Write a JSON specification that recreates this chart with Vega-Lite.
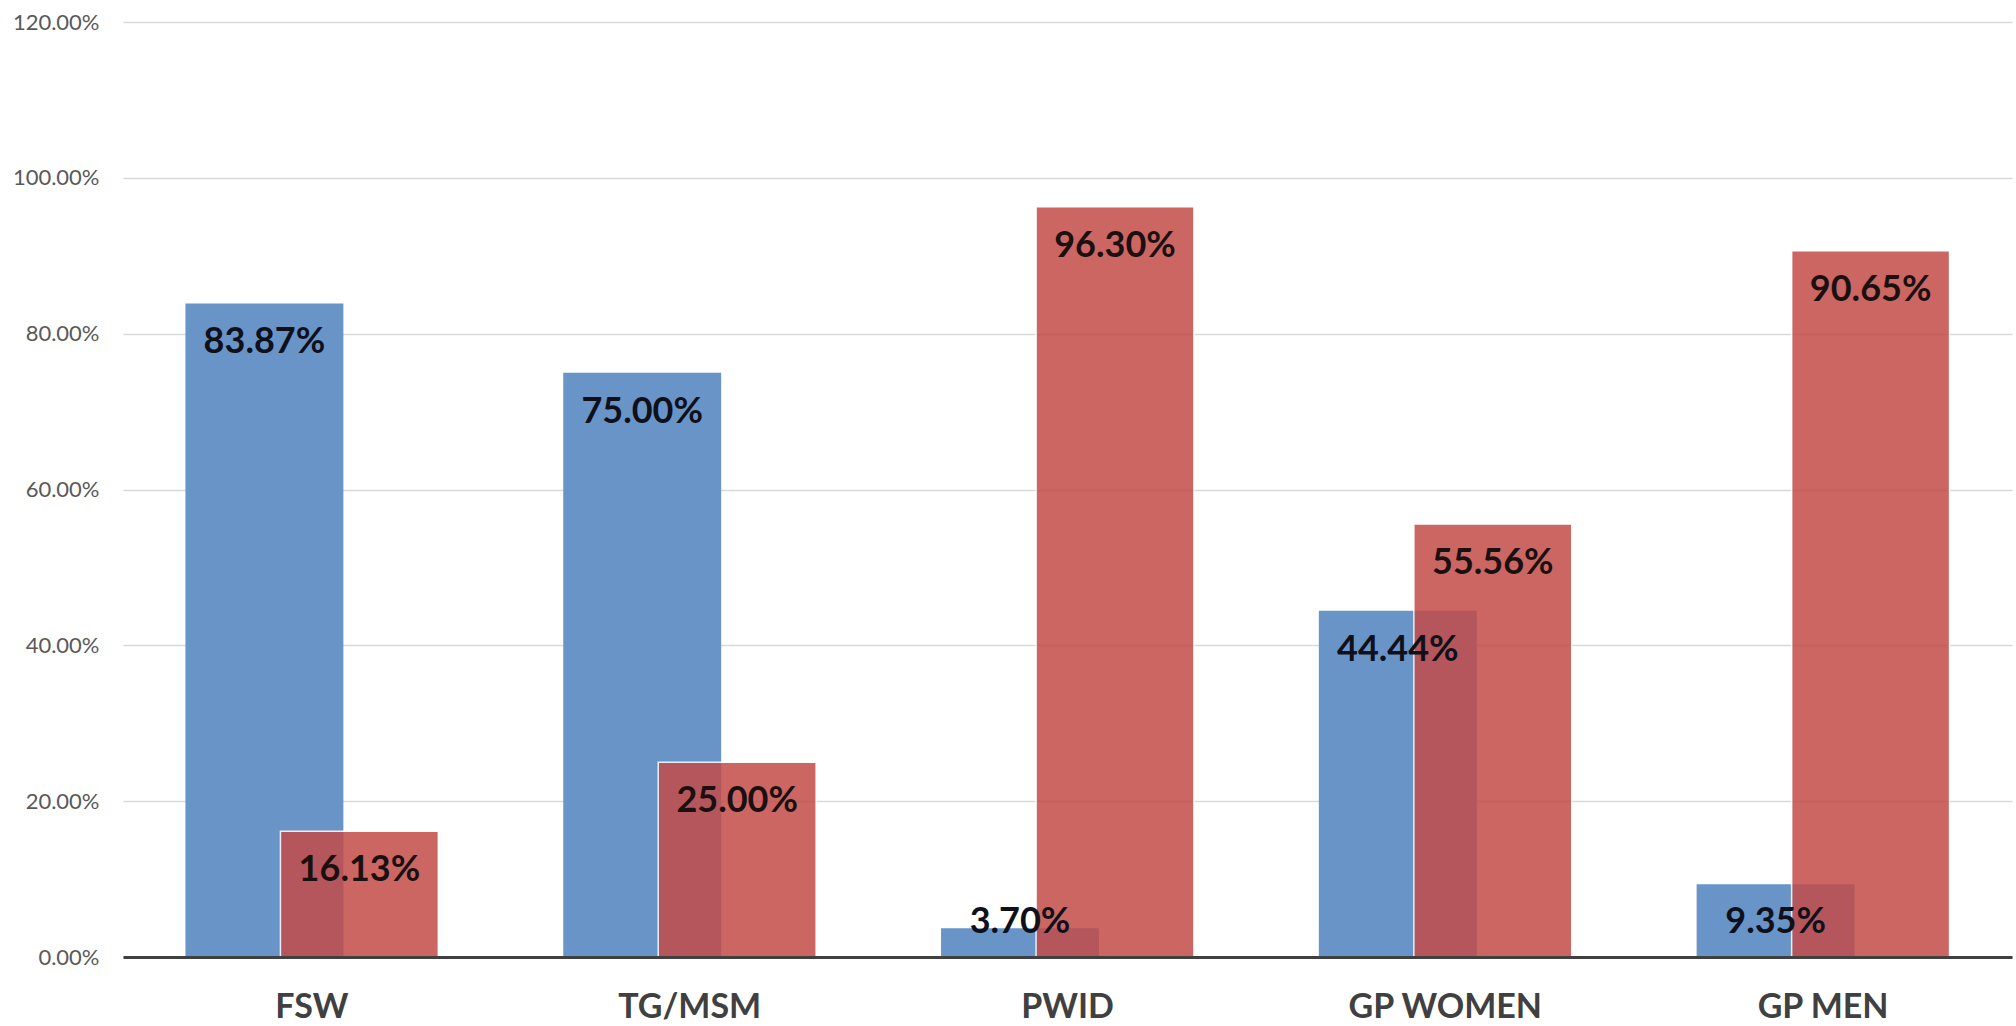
{
  "$schema": "https://vega.github.io/schema/vega-lite/v6.json",
  "autosize": {"type": "none"},
  "padding": {"left": 123, "top": 22, "right": 4, "bottom": 69},
  "width": 1889,
  "height": 935,
  "background": "white",
  "data": {
    "values": [
      {"group": "FSW", "series": "Series1", "value": 0.8387},
      {"group": "FSW", "series": "Series2", "value": 0.1613},
      {"group": "TG/MSM", "series": "Series1", "value": 0.75},
      {"group": "TG/MSM", "series": "Series2", "value": 0.25},
      {"group": "PWID", "series": "Series1", "value": 0.037},
      {"group": "PWID", "series": "Series2", "value": 0.963},
      {"group": "GP WOMEN", "series": "Series1", "value": 0.4444},
      {"group": "GP WOMEN", "series": "Series2", "value": 0.5556},
      {"group": "GP MEN", "series": "Series1", "value": 0.0935},
      {"group": "GP MEN", "series": "Series2", "value": 0.9065}
    ]
  },
  "transform": [
    {"calculate": "max(datum.value - 0.05, 0.045)", "as": "labelY"}
  ],
  "encoding": {
    "x": {
      "field": "group",
      "type": "nominal",
      "sort": null,
      "scale": {"paddingInner": 0, "paddingOuter": 0},
      "axis": {
        "title": null,
        "labelAngle": 0,
        "labelFont": "Lato",
        "labelFontWeight": "bold",
        "labelFontSize": 34,
        "labelLimit": 400,
        "labelColor": "#404040",
        "labelPadding": 33,
        "ticks": false,
        "domainColor": "#404040",
        "domainWidth": 3,
        "zindex": 1
      }
    }
  },
  "layer": [
    {
      "transform": [{"filter": "datum.series === 'Series1'"}],
      "mark": {"type": "bar", "width": {"band": 0.418}, "xOffset": -47.5, "color": "#6894C8"},
      "encoding": {
        "y": {
          "field": "value",
          "type": "quantitative",
          "scale": {"domain": [0, 1.2], "nice": false},
          "axis": {
            "title": null,
            "values": [0, 0.2, 0.4, 0.6, 0.8, 1.0, 1.2],
            "format": ".2%",
            "labelFont": "Lato",
            "labelFontSize": 22,
            "labelColor": "#595959",
            "labelPadding": 24,
            "ticks": false,
            "domain": false,
            "gridColor": "#D9D9D9",
            "gridWidth": 1.5
          }
        }
      }
    },
    {
      "transform": [{"filter": "datum.series === 'Series2'"}],
      "mark": {"type": "bar", "width": {"band": 0.418}, "xOffset": 47.5, "color": "#C24C48", "opacity": 0.85, "stroke": "#FFFFFF", "strokeWidth": 1.5},
      "encoding": {
        "y": {"field": "value", "type": "quantitative"}
      }
    },
    {
      "transform": [{"filter": "datum.series === 'Series1'"}],
      "mark": {"type": "text", "xOffset": -47.5, "font": "Lato", "fontWeight": "bold", "fontSize": 36, "color": "#10101A", "baseline": "middle", "align": "center"},
      "encoding": {
        "y": {"field": "labelY", "type": "quantitative"},
        "text": {"field": "value", "type": "quantitative", "format": ".2%"}
      }
    },
    {
      "transform": [{"filter": "datum.series === 'Series2'"}],
      "mark": {"type": "text", "xOffset": 47.5, "font": "Lato", "fontWeight": "bold", "fontSize": 36, "color": "#1A1010", "baseline": "middle", "align": "center"},
      "encoding": {
        "y": {"field": "labelY", "type": "quantitative"},
        "text": {"field": "value", "type": "quantitative", "format": ".2%"}
      }
    }
  ],
  "config": {"view": {"stroke": null}}
}
